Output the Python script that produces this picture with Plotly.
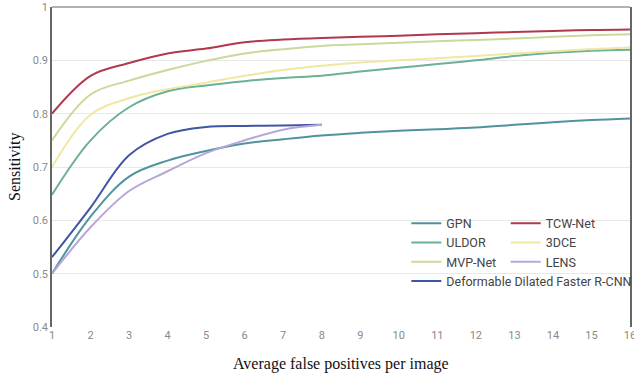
import plotly.graph_objects as go

x_full = list(range(1, 17))
x_short = list(range(1, 9))

gpn = [0.50, 0.607, 0.682, 0.712, 0.730, 0.744, 0.752, 0.759, 0.764, 0.768, 0.771, 0.774, 0.779, 0.784, 0.788, 0.791]
uldor = [0.648, 0.75, 0.812, 0.842, 0.853, 0.861, 0.867, 0.871, 0.879, 0.886, 0.893, 0.900, 0.908, 0.914, 0.918, 0.920]
mvp = [0.75, 0.836, 0.862, 0.882, 0.899, 0.913, 0.921, 0.927, 0.930, 0.933, 0.936, 0.938, 0.941, 0.944, 0.947, 0.949]
tcw = [0.80, 0.871, 0.895, 0.913, 0.922, 0.934, 0.939, 0.942, 0.944, 0.946, 0.949, 0.951, 0.953, 0.955, 0.957, 0.958]
dce = [0.70, 0.798, 0.829, 0.846, 0.858, 0.871, 0.882, 0.890, 0.896, 0.900, 0.904, 0.908, 0.913, 0.917, 0.921, 0.924]
lens = [0.50, 0.587, 0.655, 0.692, 0.726, 0.750, 0.770, 0.779]
ddfr = [0.531, 0.624, 0.722, 0.762, 0.775, 0.777, 0.778, 0.779]

x_ticks = list(range(1, 17))
y_ticks = [0.4, 0.5, 0.6, 0.7, 0.8, 0.9, 1.0]
y_ticktext = ["0.4", "0.5", "0.6", "0.7", "0.8", "0.9", "1"]

series = [
    ("GPN", x_full, gpn, "#4f939e", "legend"),
    ("ULDOR", x_full, uldor, "#6cb095", "legend"),
    ("MVP-Net", x_full, mvp, "#c9d99b", "legend"),
    ("Deformable Dilated Faster R-CNN", x_short, ddfr, "#3f56a3", "legend"),
    ("TCW-Net", x_full, tcw, "#b0384f", "legend2"),
    ("3DCE", x_full, dce, "#efe8a2", "legend2"),
    ("LENS", x_short, lens, "#b7a7d8", "legend2"),
]

fig = go.Figure()
for name, xs, ys, color, leg in series:
    fig.add_trace(go.Scatter(
        x=xs, y=ys, name=name, mode="lines",
        line=dict(color=color, width=2, shape="spline", smoothing=1.0),
        legend=leg, legendgroup=name,
    ))

legend_common = dict(
    bgcolor="rgba(0,0,0,0)", borderwidth=0,
    font=dict(family="Roboto", size=12.5, color="#444444"),
    tracegroupgap=7, itemwidth=30, traceorder="normal",
    xanchor="left", yanchor="top",
)

fig.update_layout(
    width=634, height=378,
    margin=dict(l=52, r=4, t=7, b=51, autoexpand=False),
    paper_bgcolor="white", plot_bgcolor="white",
    showlegend=True,
    legend=dict(x=0.613, y=0.37, **legend_common),
    legend2=dict(x=0.785, y=0.37, **legend_common),
    xaxis=dict(
        range=[1, 16], tickvals=x_ticks, showgrid=False, zeroline=False,
        showline=False, ticks="", automargin=False, ticklabeloverflow="allow",
        tickfont=dict(family="Roboto", size=11, color="#8a8a8a"),
    ),
    yaxis=dict(
        range=[0.4, 1.0], tickvals=y_ticks, ticktext=y_ticktext,
        showgrid=True, gridcolor="#e8e8e8", gridwidth=1, zeroline=False,
        showline=True, linecolor="#666666", linewidth=1.5, mirror=True, ticks="",
        automargin=False, ticklabeloverflow="allow",
        tickfont=dict(family="Roboto", size=11, color="#8a8a8a"),
    ),
    annotations=[
        dict(text="Average false positives per image", xref="paper", yref="paper",
             x=0.5, y=0, yshift=-37, xanchor="center", yanchor="middle", showarrow=False,
             font=dict(family="Liberation Serif", size=16, color="#111111")),
        dict(text="Sensitivity", xref="paper", yref="paper", textangle=-90,
             x=0, y=0.5, xshift=-37, xanchor="center", yanchor="middle", showarrow=False,
             font=dict(family="Liberation Serif", size=16, color="#111111")),
    ],
    shapes=[dict(type="line", xref="paper", yref="paper", x0=0, x1=1, y0=1, y1=1,
                 line=dict(color="#999999", width=1.5))],
)

fig.write_html("out.html", config={"displayModeBar": False},
               post_script="document.body.style.margin='0';document.body.style.overflow='hidden';")
